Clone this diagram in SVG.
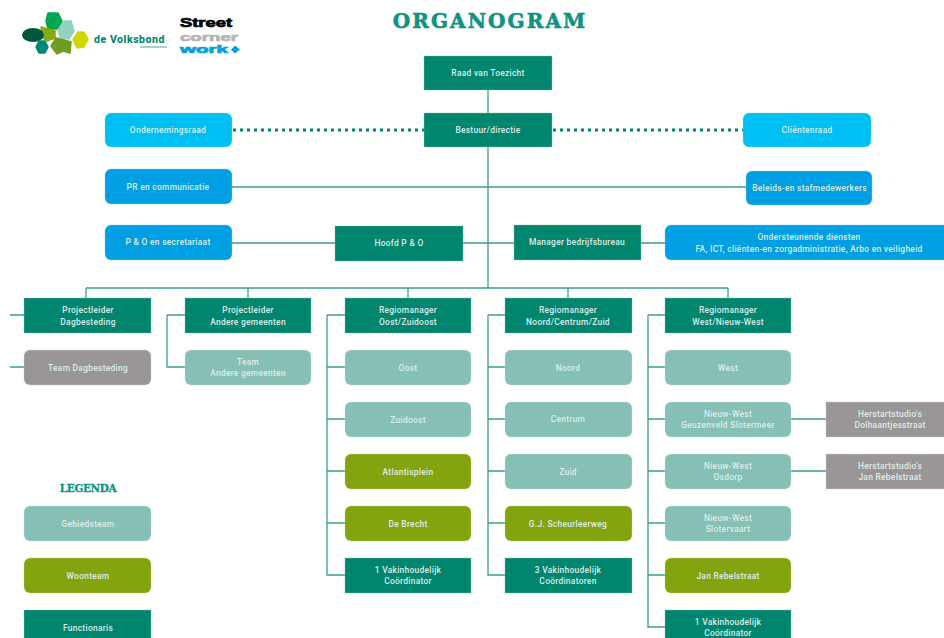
<svg xmlns="http://www.w3.org/2000/svg" width="944" height="638" viewBox="0 0 944 638">
<style>
text{font-family:"Roboto","Liberation Sans",sans-serif;font-size:8.4px;font-weight:500;fill:#dcedea;text-anchor:middle;letter-spacing:.3px}
rect{stroke-width:.4}
.f{fill:#00866f;stroke:#7fc0b2}.g{fill:#86bfb3;stroke:#c4e0da}.w{fill:#84a40f;stroke:#c3d37f}.k{fill:#9a9596;stroke:#cfcccc}.b{fill:#00bff3;stroke:#80dff9}.c{fill:#009fe3;stroke:#80cff1}
.l{stroke:#3a9f8e;stroke-width:1.3;fill:none}
.t{font-family:"DejaVu Serif","Liberation Serif",serif;font-weight:700;fill:#0f9480;stroke:#0f9480;stroke-width:.6}
.s{font-family:"Liberation Sans",sans-serif;font-weight:700;text-anchor:start;letter-spacing:0;stroke-width:.7}
.p{stroke-width:1.500;stroke-linejoin:round}
</style>
<rect width="944" height="638" fill="#fff" stroke="none"/>
<g id="logo-volksbond">
<polygon class="p" points="48,13 58,13 62,21 58,29 48,29 46,21" fill="#00a651" stroke="#00a651"/>
<polygon class="p" points="41,27 55,31 55,38 47,41 43,38" fill="#8aa80f" stroke="#8aa80f"/>
<polygon class="p" points="64,21 71,21 74,31 69,39 60,37 58,30" fill="#93d0c2" stroke="#93d0c2"/>
<polygon class="p" points="78,32 84,32 88,39 84,47 77,48 73,40" fill="#cdd800" stroke="#cdd800"/>
<ellipse cx="33" cy="35" rx="11" ry="7" fill="#00573f"/>
<polygon class="p" points="39,41 45,41 48,47 45,53 39,53 36,47" fill="#008a76" stroke="#008a76"/>
<polygon class="p" points="56,38 61,39 71,42 70,53 63,51 57,54 51,46" fill="#6f9c23" stroke="#6f9c23"/>
<text x="129.500" y="43" style="font-size:10.5px;font-weight:800;fill:#00866f;letter-spacing:.55px">de Volksbond</text>
<rect x="140" y="46" width="27" height="2" fill="#a9d3ca" stroke="none"/>
</g>
<g id="logo-street">
<text class="s" x="180" y="27" textLength="52" lengthAdjust="spacingAndGlyphs" style="font-size:12.5px;fill:#000;stroke:#000">Street</text>
<text class="s" x="180" y="41" textLength="58" lengthAdjust="spacingAndGlyphs" style="font-size:11.5px;fill:#b5b6b8;stroke:#b5b6b8">corner</text>
<text class="s" x="180" y="53" textLength="48" lengthAdjust="spacingAndGlyphs" style="font-size:10.5px;fill:#0a9fe0;stroke:#0a9fe0">work</text>
<polygon points="235,45.500 240,49.500 235,53.500 231,49.500" fill="#0a9fe0"/>
</g>
<text id="title" class="t" x="490" y="28" style="font-size:20px;letter-spacing:2.100px">ORGANOGRAM</text>
<g id="connectors">
<path class="l" d="M488 90V288M232 187H746M232 243H335M463 243H514M641 243H665M86 288H728"/>
<path class="l" d="M86 288V298M248 288V298M408 288V298M568 288V298M728 288V298"/>
<path class="l" d="M10 315H24M10 367H24M167 315H185M167 315V367H185"/>
<path class="l" d="M327 315H345M327 315V575H345M327 367H345M327 419H345M327 471H345M327 523H345"/>
<path class="l" d="M488 315H505M488 315V575H505M488 367H505M488 419H505M488 471H505M488 523H505"/>
<path class="l" d="M648 315H665M648 315V627H665M648 367H665M648 419H665M648 471H665M648 523H665M648 575H665"/>
<path class="l" d="M791 419H826M791 471H826"/>
<path d="M233 130H424M553 130H743" stroke="#00866f" stroke-width="3" stroke-dasharray="3 4" fill="none"/>
</g>
<g id="raad"><rect class="f" x="424" y="56" width="128" height="34"/><text x="488" y="76">Raad van Toezicht</text></g>
<g id="bestuur"><rect class="f" x="424" y="113" width="128" height="34"/><text x="488" y="133">Bestuur/directie</text></g>
<g id="or"><rect class="b" x="105" y="113" width="127" height="34" rx="6"/><text x="168" y="133">Ondernemingsraad</text></g>
<g id="cr"><rect class="b" x="743" y="113" width="128" height="34" rx="6"/><text x="807" y="133">Cliëntenraad</text></g>
<g id="pr"><rect class="c" x="105" y="169" width="127" height="35" rx="6"/><text x="168" y="190">PR en communicatie</text></g>
<g id="beleid"><rect class="c" x="746" y="171" width="126" height="34" rx="6"/><text x="809.500" y="191">Beleids-en stafmedewerkers</text></g>
<g id="pos"><rect class="c" x="105" y="225" width="127" height="35" rx="6"/><text x="168" y="245">P &amp; O en secretariaat</text></g>
<g id="hoofd"><rect class="f" x="335" y="226" width="128" height="35"/><text x="399" y="246">Hoofd P &amp; O</text></g>
<g id="manager"><rect class="f" x="514" y="225" width="127" height="35"/><text x="577" y="245">Manager bedrijfsbureau</text></g>
<g id="onder"><rect class="c" x="665" y="225" width="285" height="35" rx="6"/><text x="809" y="240">Ondersteunende diensten</text><text x="809" y="252">FA, ICT, cliënten-en zorgadministratie, Arbo en veiligheid</text></g>

<g id="pl-dag"><rect class="f" x="24" y="298" width="127" height="35"/><text x="88" y="313">Projectleider</text><text x="88" y="325">Dagbesteding</text></g>
<g id="team-dag"><rect class="k" x="24" y="350" width="127" height="35" rx="6"/><text x="88" y="371">Team Dagbesteding</text></g>
<g id="pl-ag"><rect class="f" x="185" y="298" width="126" height="35"/><text x="248" y="313">Projectleider</text><text x="248" y="325">Andere gemeenten</text></g>
<g id="team-ag"><rect class="g" x="185" y="350" width="126" height="35" rx="6"/><text x="248" y="365">Team</text><text x="248" y="376">Andere gemeenten</text></g>

<g id="rm-oost"><rect class="f" x="345" y="298" width="126" height="35"/><text x="408" y="313">Regiomanager</text><text x="408" y="325">Oost/Zuidoost</text></g>
<g id="oost"><rect class="g" x="345" y="350" width="126" height="35" rx="6"/><text x="408" y="371">Oost</text></g>
<g id="zuidoost"><rect class="g" x="345" y="402" width="126" height="35" rx="6"/><text x="408" y="423">Zuidoost</text></g>
<g id="atlantis"><rect class="w" x="345" y="454" width="126" height="35" rx="6"/><text x="408" y="475">Atlantisplein</text></g>
<g id="brecht"><rect class="w" x="345" y="506" width="126" height="35" rx="6"/><text x="408" y="527">De Brecht</text></g>
<g id="vak1"><rect class="f" x="345" y="558" width="126" height="35"/><text x="408" y="573">1 Vakinhoudelijk</text><text x="408" y="584">Coördinator</text></g>

<g id="rm-noord"><rect class="f" x="505" y="298" width="127" height="35"/><text x="568" y="313">Regiomanager</text><text x="568" y="325">Noord/Centrum/Zuid</text></g>
<g id="noord"><rect class="g" x="505" y="350" width="127" height="35" rx="6"/><text x="568" y="371">Noord</text></g>
<g id="centrum"><rect class="g" x="505" y="402" width="127" height="35" rx="6"/><text x="568" y="422">Centrum</text></g>
<g id="zuid"><rect class="g" x="505" y="454" width="127" height="35" rx="6"/><text x="568" y="475">Zuid</text></g>
<g id="scheurleer"><rect class="w" x="505" y="506" width="127" height="35" rx="6"/><text x="568" y="527">G.J. Scheurleerweg</text></g>
<g id="vak3"><rect class="f" x="505" y="558" width="127" height="35"/><text x="568" y="573">3 Vakinhoudelijk</text><text x="568" y="584">Coördinatoren</text></g>

<g id="rm-west"><rect class="f" x="665" y="298" width="126" height="35"/><text x="728" y="313">Regiomanager</text><text x="728" y="325">West/Nieuw-West</text></g>
<g id="west"><rect class="g" x="665" y="350" width="126" height="35" rx="6"/><text x="728" y="371">West</text></g>
<g id="geuzen"><rect class="g" x="665" y="402" width="126" height="35" rx="6"/><text x="728" y="417">Nieuw-West</text><text x="728" y="428">Geuzenveld Slotermeer</text></g>
<g id="osdorp"><rect class="g" x="665" y="454" width="126" height="35" rx="6"/><text x="728" y="469">Nieuw-West</text><text x="728" y="480">Osdorp</text></g>
<g id="slotervaart"><rect class="g" x="665" y="506" width="126" height="35" rx="6"/><text x="728" y="521">Nieuw-West</text><text x="728" y="532">Slotervaart</text></g>
<g id="janreb"><rect class="w" x="665" y="558" width="126" height="35" rx="6"/><text x="728" y="579">Jan Rebelstraat</text></g>
<g id="vak1w"><rect class="f" x="665" y="610" width="126" height="35"/><text x="728" y="625">1 Vakinhoudelijk</text><text x="728" y="636">Coördinator</text></g>

<g id="hs1"><rect class="k" x="826" y="402" width="124" height="35"/><text x="890" y="417">Herstartstudio's</text><text x="890" y="428">Dolhaantjesstraat</text></g>
<g id="hs2"><rect class="k" x="826" y="454" width="124" height="35"/><text x="890" y="469">Herstartstudio's</text><text x="890" y="480">Jan Rebelstraat</text></g>

<text id="legenda" class="t" x="88" y="492" style="font-size:10.5px;letter-spacing:-.4px;stroke-width:.3">LEGENDA</text>
<g id="leg1"><rect class="g" x="24" y="506" width="127" height="35" rx="6"/><text x="88" y="527">Gebiedsteam</text></g>
<g id="leg2"><rect class="w" x="24" y="558" width="127" height="35" rx="6"/><text x="88" y="579">Woonteam</text></g>
<g id="leg3"><rect class="f" x="24" y="610" width="127" height="35"/><text x="88" y="631">Functionaris</text></g>
</svg>
